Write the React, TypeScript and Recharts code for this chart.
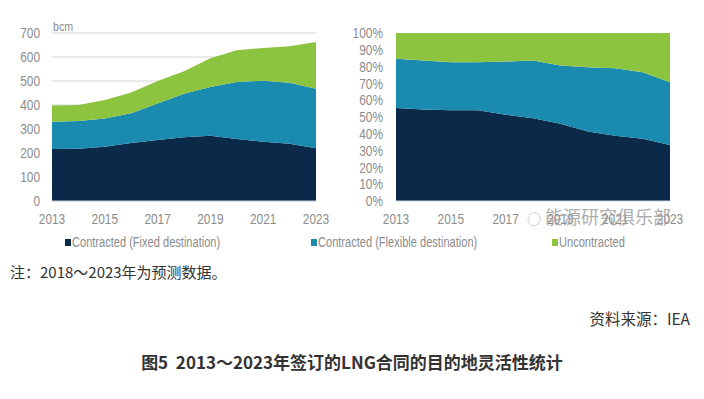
import React from 'react';
import { AreaChart, Area, XAxis, YAxis, CartesianGrid } from 'recharts';

const years = ['2013', '2014', '2015', '2016', '2017', '2018', '2019', '2020', '2021', '2022', '2023'];

// Left panel: bcm
const fixedBcm = [217, 218, 226, 242, 254, 266, 272, 258, 247, 239, 220];
const flexibleBcm = [113, 115, 118, 124, 152, 181, 203, 238, 254, 254, 248];
const uncontractedBcm = [68, 67, 77, 86, 94, 94, 120, 132, 137, 152, 195];
const bcmTicks = [0, 100, 200, 300, 400, 500, 600, 700];

// Right panel: share (%)
const fixedPct = [55.4, 54.5, 54, 54, 51.3, 49.3, 46, 41.4, 38.8, 37, 33.3];
const flexiblePct = [29.2, 29.1, 28.6, 28.6, 31.7, 34.3, 34.6, 38.2, 40.2, 39.6, 37.4];
const uncontractedPct = [15.4, 16.4, 17.4, 17.4, 17, 16.4, 19.4, 20.4, 21, 23.4, 29.3];
const pctTicks = [0, 10, 20, 30, 40, 50, 60, 70, 80, 90, 100];

const seriesNames = ['Contracted (Fixed destination)', 'Contracted (Flexible destination)', 'Uncontracted'];
const colors = ['#0b2a4a', '#1a8aae', '#8cc43f'];

const bcmData = years.map((y, i) => ({ year: y, fixed: fixedBcm[i], flexible: flexibleBcm[i], uncontracted: uncontractedBcm[i] }));
const pctData = years.map((y, i) => ({ year: y, fixed: fixedPct[i], flexible: flexiblePct[i], uncontracted: uncontractedPct[i] }));

const axisFont = '"Liberation Sans", Arial, sans-serif';
const cjk = '"Noto Sans CJK SC", "Noto Sans", sans-serif';
const gray = '#8c8c8c';
const SQ = 0.82;
const LEG_SQ = 0.79;

const keys = ['fixed', 'flexible', 'uncontracted'];

function NarrowTick(props: any) {
  const { x, y, payload, anchor, dy, fmt } = props;
  const label = fmt ? fmt(payload.value) : String(payload.value);
  return (
    <g transform={`translate(${x},${y}) scale(${SQ},1)`}>
      <text x={0} y={0} dy={dy} textAnchor={anchor} fontSize={14.5} fill={gray} fontFamily={axisFont}>
        {label}
      </text>
    </g>
  );
}

export default function App() {
  return (
    <div style={{ position: 'absolute', left: 0, top: 0, width: 704, height: 399, background: '#fff', overflow: 'hidden' }}>
      <div style={{ position: 'absolute', left: 0, top: 0 }}>
        <AreaChart width={340} height={240} data={bcmData} margin={{ top: 33, right: 24, bottom: 9, left: 0 }}>
          <CartesianGrid horizontal vertical={false} stroke="#d4d4d4" />
          <XAxis dataKey="year" interval={1} tickSize={0} tickMargin={13} tick={<NarrowTick anchor="middle" dy="0.71em" />} axisLine={{ stroke: '#c8d8e6' }} height={30} />
          <YAxis domain={[0, 700]} ticks={bcmTicks} interval={0} width={52} tickSize={0} tickMargin={12} tick={<NarrowTick anchor="end" dy="0.36em" />} axisLine={false} />
          {keys.map((k, i) => (
            <Area key={k} type="linear" dataKey={k} stackId="a" stroke="none" fill={colors[i]} fillOpacity={1} isAnimationActive={false} />
          ))}
        </AreaChart>
      </div>
      <div style={{ position: 'absolute', left: 53, top: 19, fontFamily: axisFont, fontSize: 13, color: gray, transform: `scaleX(${SQ})`, transformOrigin: 'left' }}>bcm</div>

      <div style={{ position: 'absolute', left: 340, top: 0 }}>
        <AreaChart width={364} height={240} data={pctData} margin={{ top: 33, right: 34, bottom: 9, left: 0 }}>
          <XAxis dataKey="year" interval={1} tickSize={0} tickMargin={13} tick={<NarrowTick anchor="middle" dy="0.71em" />} axisLine={{ stroke: '#c8d8e6' }} height={30} />
          <YAxis domain={[0, 100]} ticks={pctTicks} interval={0} width={56} tickSize={0} tickMargin={13} tick={<NarrowTick anchor="end" dy="0.36em" fmt={(v: number) => `${v}%`} />} axisLine={false} />
          {keys.map((k, i) => (
            <Area key={k} type="linear" dataKey={k} stackId="a" stroke="none" fill={colors[i]} fillOpacity={1} isAnimationActive={false} />
          ))}
        </AreaChart>
      </div>

      <div style={{ position: 'absolute', left: 527, top: 203, fontFamily: cjk, fontSize: 18, color: '#a0a0a0', whiteSpace: 'nowrap', opacity: 0.85 }}>
        <span style={{ fontSize: 14, marginRight: 4 }}>◌</span>能源研究俱乐部
      </div>

      {seriesNames.map((name, i) => (
        <div key={name} style={{ position: 'absolute', left: [65, 311, 552][i], top: 234, display: 'flex', alignItems: 'center', fontFamily: axisFont, fontSize: 14, color: gray, whiteSpace: 'nowrap' }}>
          <span style={{ display: 'inline-block', width: 6, height: 7, background: colors[i], marginRight: 1 }} />
          <span style={{ display: 'inline-block', transform: `scaleX(${LEG_SQ})`, transformOrigin: 'left' }}>{name}</span>
        </div>
      ))}

      <div style={{ position: 'absolute', left: 10, top: 261, fontFamily: cjk, fontSize: 15, color: '#333', whiteSpace: 'nowrap' }}>注：2018～2023年为预测数据。</div>
      <div style={{ position: 'absolute', right: 14, top: 307, fontFamily: cjk, fontSize: 15.5, color: '#333', whiteSpace: 'nowrap' }}>资料来源：IEA</div>
      <div style={{ position: 'absolute', left: 0, width: 704, textAlign: 'center', top: 349, fontFamily: cjk, fontSize: 17, fontWeight: 700, color: '#333', whiteSpace: 'nowrap' }}>图5&nbsp;&nbsp;2013～2023年签订的LNG合同的目的地灵活性统计</div>
    </div>
  );
}
